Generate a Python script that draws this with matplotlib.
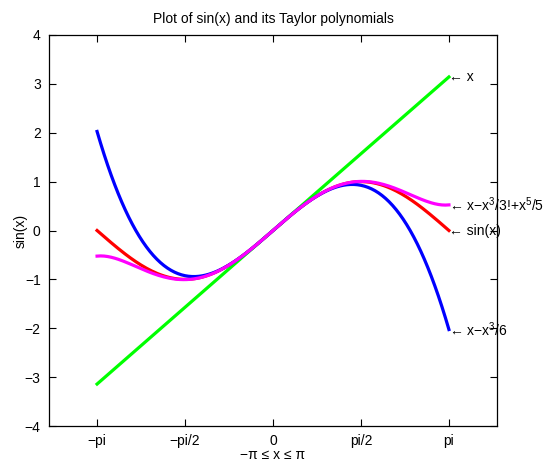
import numpy as np
import matplotlib
matplotlib.use("Agg")
import matplotlib.pyplot as plt

plt.rcParams['font.family'] = ['Liberation Sans', 'DejaVu Sans']
plt.rcParams['mathtext.default'] = 'regular'

# Data
x = np.linspace(-np.pi, np.pi, 201)
series_names = ['sin(x)', 'x', 'x-x^3/6', 'x-x^3/3!+x^5/5!']
y_sin = np.sin(x)
y_lin = x
y_cub = x - x**3 / 6
y_quint = x - x**3 / 6 + x**5 / 120
xtick_vals = [-np.pi, -np.pi / 2, 0, np.pi / 2, np.pi]
xtick_labels = ['\u2212pi', '\u2212pi/2', '0', 'pi/2', 'pi']
ytick_vals = [-4, -3, -2, -1, 0, 1, 2, 3, 4]
ytick_labels = ['\u22124', '\u22123', '\u22122', '\u22121', '0', '1', '2', '3', '4']

fig = plt.figure(figsize=(5.43, 4.63), dpi=100)
ax = fig.add_axes([49 / 543, 1 - 426 / 463, (497 - 49) / 543, (426 - 35) / 463])

lw = 2.3
ax.plot(x, y_sin, color='#ff0000', lw=lw)
ax.plot(x, y_lin, color='#00ff00', lw=lw)
ax.plot(x, y_cub, color='#0000ff', lw=lw)
ax.plot(x, y_quint, color='#ff00ff', lw=lw)

ax.set_xlim(-4, 4)
ax.set_ylim(-4, 4)
ax.set_xticks(xtick_vals)
ax.set_xticklabels(xtick_labels)
ax.set_yticks(ytick_vals)
ax.set_yticklabels(ytick_labels)
ax.tick_params(direction='in', top=True, right=True, length=5, width=0.8, labelsize=10, pad=6)
for s in ax.spines.values():
    s.set_linewidth(0.9)

ax.set_title('Plot of sin(x) and its Taylor polynomials', fontsize=10, pad=9)
ax.set_xlabel('\u2212\u03c0 \u2264 x \u2264 \u03c0', fontsize=10, labelpad=0)
ax.set_ylabel('sin(x)', fontsize=10, labelpad=-2)

tf = dict(fontsize=10, ha='left', va='center', clip_on=False)
ax.text(np.pi, y_lin[-1], '\u2190 x', **tf)
ax.text(np.pi, y_quint[-1], '\u2190 x\u2212x$^{3}$/3!+x$^{5}$/5', **tf)
ax.text(np.pi, y_sin[-1], '\u2190 sin(x)', **tf)
ax.text(np.pi, y_cub[-1], '\u2190 x\u2212x$^{3}$/6', **tf)

fig.savefig('out.png', dpi=100)
